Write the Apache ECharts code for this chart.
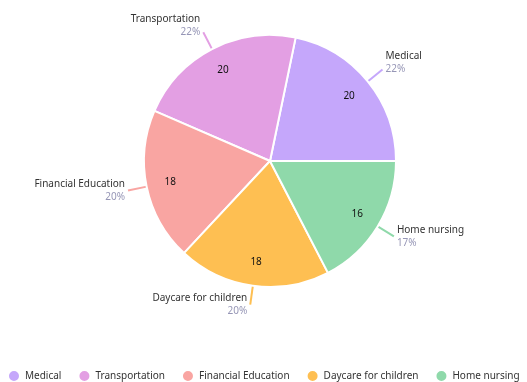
<!DOCTYPE html>
<html>
<head>
<meta charset="utf-8">
<script src="https://cdn.jsdelivr.net/npm/echarts@6/dist/echarts.min.js"></script>
<style>
  html, body { margin: 0; padding: 0; background: #fff; }
  #chart { width: 527px; height: 382px; }
</style>
</head>
<body>
<div id="chart"></div>
<script>
// Service categories and their counts
const categories = ['Medical', 'Transportation', 'Financial Education', 'Daycare for children', 'Home nursing'];
const values = [20, 20, 18, 18, 16];
const colors = ['#c5a7fb', '#e39fe3', '#f9a5a2', '#febf52', '#8fd9aa'];

const data = categories.map((name, i) => ({ name, value: values[i] }));

const chart = echarts.init(document.getElementById('chart'));
chart.setOption({
  color: colors,
  textStyle: { fontFamily: '"Noto Sans", sans-serif' },
  legend: {
    bottom: -6,
    left: 2,
    width: 700,
    icon: 'circle',
    itemWidth: 12,
    itemHeight: 12,
    itemGap: 16,
    textStyle: { fontSize: 10, color: '#333' },
    data: categories
  },
  series: [
    {
      // slices with name / percentage labels outside
      type: 'pie',
      center: [270, 161],
      radius: 126,
      startAngle: 0,
      clockwise: false,
      itemStyle: { borderColor: '#fff', borderWidth: 2 },
      label: {
        position: 'outside',
        distanceToLabelLine: 3,
        formatter: p => '{n|' + p.name + '}\n{p|' + Math.round(p.percent) + '%}',
        rich: {
          n: { fontSize: 10, color: '#333', lineHeight: 13 },
          p: { fontSize: 10, color: '#9696b6', lineHeight: 13 }
        }
      },
      // labels near the top of the pie sit above the end of their leader line
      labelLayout: p => {
        const r = p.labelRect;
        return r.y + r.height / 2 < 80 ? { dy: -7 } : {};
      },
      labelLine: { length: 19, length2: 0, lineStyle: { width: 2 } },
      emphasis: { scale: false },
      data: data
    },
    {
      // value labels placed inside each slice
      type: 'pie',
      center: [270, 161],
      radius: [72, 126],
      startAngle: 0,
      clockwise: false,
      silent: true,
      itemStyle: { color: 'rgba(0,0,0,0)' },
      label: {
        position: 'inside',
        formatter: '{c}',
        fontSize: 10,
        color: '#111'
      },
      labelLine: { show: false },
      data: data
    }
  ]
});
</script>
</body>
</html>
